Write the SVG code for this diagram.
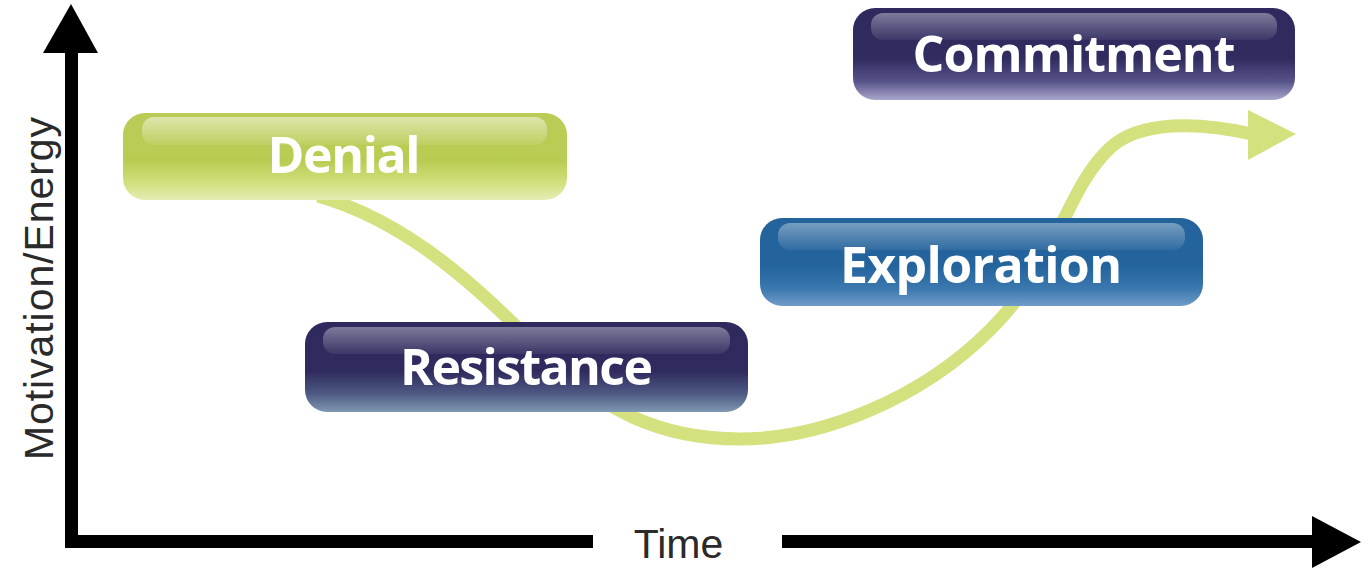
<svg xmlns="http://www.w3.org/2000/svg" width="1368" height="569" viewBox="0 0 1368 569">
<defs>
<linearGradient id="gGreen" x1="0" y1="0" x2="0" y2="1">
<stop offset="0" stop-color="#bccb57"/>
<stop offset="0.55" stop-color="#b9cc52"/>
<stop offset="0.8" stop-color="#d2df7c"/>
<stop offset="1" stop-color="#e6ecb4"/>
</linearGradient>
<linearGradient id="gNavyR" x1="0" y1="0" x2="0" y2="1">
<stop offset="0" stop-color="#2f2a5e"/>
<stop offset="0.55" stop-color="#2f2b5e"/>
<stop offset="0.8" stop-color="#4e5a84"/>
<stop offset="1" stop-color="#7f98b2"/>
</linearGradient>
<linearGradient id="gNavyC" x1="0" y1="0" x2="0" y2="1">
<stop offset="0" stop-color="#2f2a5e"/>
<stop offset="0.55" stop-color="#302c60"/>
<stop offset="0.8" stop-color="#57548a"/>
<stop offset="1" stop-color="#a9a6cc"/>
</linearGradient>
<linearGradient id="gBlue" x1="0" y1="0" x2="0" y2="1">
<stop offset="0" stop-color="#24639c"/>
<stop offset="0.55" stop-color="#24649d"/>
<stop offset="0.8" stop-color="#3a78ae"/>
<stop offset="1" stop-color="#6f9cc8"/>
</linearGradient>
<linearGradient id="gShine" x1="0" y1="0" x2="0" y2="1">
<stop offset="0" stop-color="#ffffff" stop-opacity="0.5"/>
<stop offset="1" stop-color="#ffffff" stop-opacity="0.08"/>
</linearGradient>
</defs>
<style>
.axis{fill:#000}
.lbl{font-family:"Liberation Sans",Arial,sans-serif;font-size:41px;fill:#2a2a2a}
.node-text{font-family:"Open Sans","Liberation Sans",Arial,sans-serif;font-weight:700;font-size:50px;fill:#ffffff;text-anchor:middle}
.shine{fill:url(#gShine)}
.curve{fill:none;stroke:#d4e17e;stroke-width:13;stroke-linecap:butt}
</style>

<g id="axes">
<rect class="axis" x="65" y="50" width="13" height="498"/>
<polygon class="axis" points="43,53 71,4 98,53"/>
<rect class="axis" x="65" y="535" width="528" height="13"/>
<rect class="axis" x="782" y="535" width="532" height="13"/>
<polygon class="axis" points="1312,516 1361,542 1312,568"/>
<text class="lbl" transform="translate(53,460) rotate(-90)" textLength="343">Motivation/Energy</text>
<text class="lbl" x="678.5" y="558" text-anchor="middle">Time</text>
</g>

<g id="connectors">
<path class="curve" d="M318,196 C410,222 480,290 540,350 S660,439 740,439 C820,439 920,400 990,330 S1065,190 1110,148 C1140,120 1200,122 1252,134"/>
<polygon fill="#d4e17e" points="1248,110 1296,134 1248,160"/>
</g>

<g id="node-denial">
<rect x="123" y="113" width="444" height="87" rx="22" fill="url(#gGreen)"/>
<rect class="shine" x="142" y="117" width="405" height="28" rx="12"/>
<text class="node-text" x="344" y="173" textLength="153">Denial</text>
</g>

<g id="node-resistance">
<rect x="305" y="322" width="443" height="90" rx="22" fill="url(#gNavyR)"/>
<rect class="shine" x="323" y="327" width="407" height="27" rx="12" opacity="0.75"/>
<text class="node-text" x="526.5" y="385" textLength="253">Resistance</text>
</g>

<g id="node-exploration">
<rect x="760" y="218" width="443" height="88" rx="22" fill="url(#gBlue)"/>
<rect class="shine" x="778" y="223" width="407" height="27" rx="12" opacity="0.75"/>
<text class="node-text" x="981" y="283" textLength="282">Exploration</text>
</g>

<g id="node-commitment">
<rect x="853" y="8" width="442" height="92" rx="22" fill="url(#gNavyC)"/>
<rect class="shine" x="871" y="13" width="406" height="27" rx="12" opacity="0.75"/>
<text class="node-text" x="1074" y="72" textLength="323">Commitment</text>
</g>
</svg>
